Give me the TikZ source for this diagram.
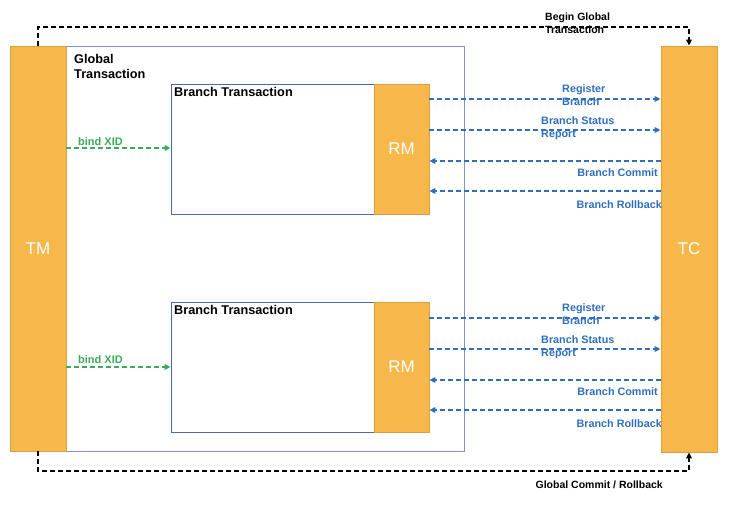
\documentclass[tikz,border=0pt]{standalone}
\usepackage{fontspec}
\setmainfont{Liberation Sans}
\usetikzlibrary{arrows.meta,calc}
\definecolor{orng}{HTML}{F6B84B}
\definecolor{orngline}{HTML}{D9A040}
\definecolor{blu}{HTML}{2F6EBA}
\definecolor{grn}{HTML}{3DAA5A}
\definecolor{boxline}{HTML}{4A6BB0}
\definecolor{gline}{HTML}{8093C4}
\tikzset{
  actor/.style={draw=orngline, fill=orng, line width=0.8pt, inner sep=0pt, text=white, font=\fontsize{17}{20}\selectfont},
  branchbox/.style={draw=boxline, line width=0.8pt, inner sep=0pt},
  bluarrow/.style={draw=blu, line width=1.9pt, dash pattern=on 5pt off 3pt, -{Triangle[length=6pt,width=5.5pt]}},
  grnarrow/.style={draw=grn, line width=1.9pt, dash pattern=on 5pt off 3pt, -{Triangle[length=6pt,width=5.5pt]}},
  blkarrow/.style={draw=black, line width=1.9pt, dash pattern=on 5pt off 3pt, -{Triangle[length=6pt,width=5.5pt]}},
  blulabel/.style={text=blu, font=\bfseries\fontsize{10.8}{13}\selectfont, inner sep=0pt, align=left},
  grnlabel/.style={text=grn, font=\bfseries\fontsize{11}{13}\selectfont, inner sep=0pt},
  blklabel/.style={text=black, font=\bfseries\fontsize{10.5}{13}\selectfont, inner sep=0pt, align=left},
  titlelabel/.style={text=black, font=\bfseries\fontsize{12.7}{15}\selectfont, inner sep=0pt, align=left}
}
\begin{document}
\begin{tikzpicture}[x=1pt,y=-1pt]
\useasboundingbox (0,0) rectangle (742,510);
% global transaction box
\node[draw=gline, line width=0.9pt, minimum width=398pt, minimum height=405pt, inner sep=0pt] (gt) at (265,248.5) {};
\node[titlelabel, anchor=north west] (gtl) at (74,54) {Global\\Transaction};
% TM and TC
\node[actor, minimum width=56pt, minimum height=405pt] (tm) at (38,248.5) {TM};
\node[actor, minimum width=56pt, minimum height=406pt] (tc) at (689,249) {TC};
% branch 1
\node[branchbox, minimum width=203pt, minimum height=130pt] (b1) at (272.5,149) {};
\node[actor, minimum width=55pt, minimum height=130pt] (rm1) at (401.5,149) {RM};
\node[titlelabel, anchor=north west] (b1l) at (174,87) {Branch Transaction};
% branch 2
\node[branchbox, minimum width=203pt, minimum height=130pt] (b2) at (272.5,367) {};
\node[actor, minimum width=55pt, minimum height=130pt] (rm2) at (401.5,367) {RM};
\node[titlelabel, anchor=north west] (b2l) at (174,305) {Branch Transaction};
% y levels
\coordinate (ya1) at (0,99);
\coordinate (ya2) at (0,130);
\coordinate (ya3) at (0,161);
\coordinate (ya4) at (0,191);
\coordinate (yb1) at (0,318);
\coordinate (yb2) at (0,349);
\coordinate (yb3) at (0,380);
\coordinate (yb4) at (0,410);
\coordinate (yg1) at (0,148);
\coordinate (yg2) at (0,367);
% blue arrows set 1
\draw[bluarrow] (rm1.east |- ya1) -- (tc.west |- ya1);
\draw[bluarrow] (rm1.east |- ya2) -- (tc.west |- ya2);
\draw[bluarrow] (tc.west |- ya3) -- (rm1.east |- ya3);
\draw[bluarrow] (tc.west |- ya4) -- (rm1.east |- ya4);
\node[blulabel, anchor=west] (la1) at (562,95) {Register\\Branch};
\node[blulabel, anchor=west] (la2) at (541,128) {Branch Status\\Report};
\node[blulabel, anchor=east] (la3) at (658,172.5) {Branch Commit};
\node[blulabel, anchor=east] (la4) at (662,204.5) {Branch Rollback};
% blue arrows set 2
\draw[bluarrow] (rm2.east |- yb1) -- (tc.west |- yb1);
\draw[bluarrow] (rm2.east |- yb2) -- (tc.west |- yb2);
\draw[bluarrow] (tc.west |- yb3) -- (rm2.east |- yb3);
\draw[bluarrow] (tc.west |- yb4) -- (rm2.east |- yb4);
\node[blulabel, anchor=west] (lb1) at (562,314) {Register\\Branch};
\node[blulabel, anchor=west] (lb2) at (541,347) {Branch Status\\Report};
\node[blulabel, anchor=east] (lb3) at (658,391.5) {Branch Commit};
\node[blulabel, anchor=east] (lb4) at (662,423.5) {Branch Rollback};
% green bind XID
\draw[grnarrow] (tm.east |- yg1) -- (b1.west |- yg1);
\draw[grnarrow] (tm.east |- yg2) -- (b2.west |- yg2);
\node[grnlabel, anchor=west] (gl1) at (78,141.5) {bind XID};
\node[grnlabel, anchor=west] (gl2) at (78,359.5) {bind XID};
% global begin / end
\coordinate (tp) at (0,27);
\coordinate (bt) at (0,471);
\draw[blkarrow] (tm.north) -- (tm.north |- tp) -- (tc.north |- tp) -- (tc.north);
\draw[blkarrow] (tm.south) -- (tm.south |- bt) -- (tc.south |- bt) -- (tc.south);
\node[blklabel, anchor=west] (bgl) at (545,23) {Begin Global\\Transaction};
\node[blklabel, anchor=east] (gcl) at (663,484.5) {Global Commit / Rollback};
\end{tikzpicture}
\end{document}
